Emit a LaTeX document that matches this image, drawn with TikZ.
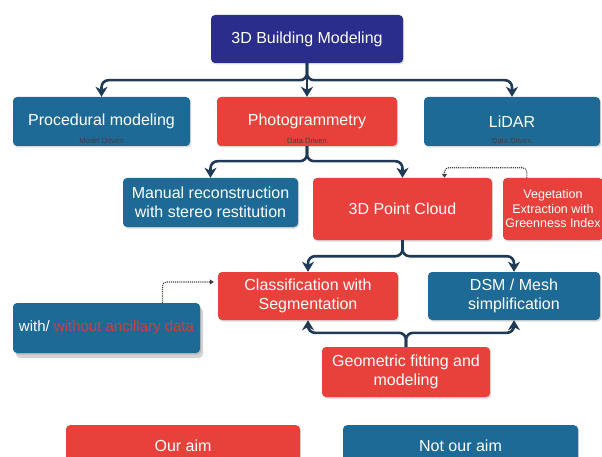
\documentclass[tikz,border=0pt]{standalone}
\usepackage{fontspec}
\setmainfont{Liberation Sans}
\usetikzlibrary{arrows.meta,shadows}
\definecolor{aimred}{HTML}{E8413B}
\definecolor{darkred}{HTML}{C9403E}
\definecolor{notblue}{HTML}{1E6A97}
\definecolor{topblue}{HTML}{2B2D8C}
\definecolor{linkcol}{HTML}{1F3A57}
\tikzset{
	box/.style={rounded corners=4pt,text=white,align=center,inner sep=2pt,
		font=\fontsize{16}{18.5}\selectfont,
		drop shadow={shadow xshift=1.2pt,shadow yshift=-1.5pt,opacity=0.3}},
	redbox/.style={box,fill=aimred},
	bluebox/.style={box,fill=notblue},
	topbox/.style={box,fill=topblue},
	drv/.style={font=\fontsize{7.5}{8}\selectfont,text=black!75,anchor=south,inner sep=2.5pt},
	link/.style={draw=linkcol,line width=2.6pt,rounded corners=7pt,
		-{Stealth[width=12pt,length=10pt,inset=3pt]}},
	dots/.style={draw=gray!50!black,densely dotted,line width=1.1pt,rounded corners=4pt,
		-{Triangle[width=5pt,length=4pt]}}
}

\begin{document}
\begin{tikzpicture}[x=1pt,y=-1pt]
	\useasboundingbox (0,0) rectangle (602,457);

	\node[topbox,minimum width=192pt,minimum height=48pt] (top) at (307,39) {3D Building Modeling};

	\node[bluebox,minimum width=177pt,minimum height=49pt,label={[drv]south:Model Driven}] (proc) at (101.5,121.5) {Procedural modeling};
	\node[redbox,minimum width=180pt,minimum height=49pt,label={[drv]south:Data Driven}] (photo) at (307,121.5) {Photogrammetry};
	\node[bluebox,minimum width=176pt,minimum height=49pt,label={[drv]south:Data Driven}] (lidar) at (512,121.5) {LiDAR};

	\node[bluebox,minimum width=175pt,minimum height=49pt] (manual) at (210.5,202.5) {Manual reconstruction\\with stereo restitution};
	\node[redbox,minimum width=179pt,minimum height=62pt] (cloud) at (402.5,209) {3D Point Cloud};
	\node[redbox,minimum width=100pt,minimum height=62pt,font=\fontsize{12.5}{14.5}\selectfont] (veg) at (553,209) {Vegetation\\Extraction with\\Greenness Index};

	\node[redbox,minimum width=180pt,minimum height=48pt] (class) at (308,296) {Classification with\\Segmentation};
	\node[bluebox,minimum width=172pt,minimum height=48pt] (dsm) at (514,296) {DSM / Mesh\\simplification};
	\node[bluebox,minimum width=187pt,minimum height=50pt,font=\fontsize{15}{17}\selectfont,
		drop shadow={shadow xshift=3pt,shadow yshift=-5pt,opacity=0.35}] (with) at (106.5,328) {with/ \textcolor{darkred}{without ancillary data}};

	\node[redbox,minimum width=168pt,minimum height=50pt] (geo) at (406,372) {Geometric fitting and\\modeling};

	\node[redbox,minimum width=234pt,minimum height=42pt,anchor=north] (ours) at (183,425) {Our aim};
	\node[bluebox,minimum width=235pt,minimum height=42pt,anchor=north] (notours) at (460.5,425) {Not our aim};

	% solid links
	\draw[link] (top.south) -- ++(0,17) -| (proc.north);
	\draw[link] (top.south) -- (photo.north);
	\draw[link] (top.south) -- ++(0,17) -| (lidar.north);
	\draw[link] (photo.south) -- ++(0,15) -| (manual.north);
	\draw[link] (photo.south) -- ++(0,15) -| (cloud.north);
	\draw[link] (cloud.south) -- ++(0,16) -| (class.north);
	\draw[link] (cloud.south) -- ++(0,16) -| (dsm.north);
	\draw[link] (geo.north) -- ++(0,-14) -| (class.south);
	\draw[link] (geo.north) -- ++(0,-14) -| (dsm.south);

	% dotted links
	\draw[dots] ([xshift=24pt]veg.north west) -- ++(0,-10) -| ([xshift=42pt]cloud.north);
	\draw[dots] ([xshift=56pt]with.north) |- ([yshift=14pt,xshift=-4pt]class.west);
\end{tikzpicture}
\end{document}
